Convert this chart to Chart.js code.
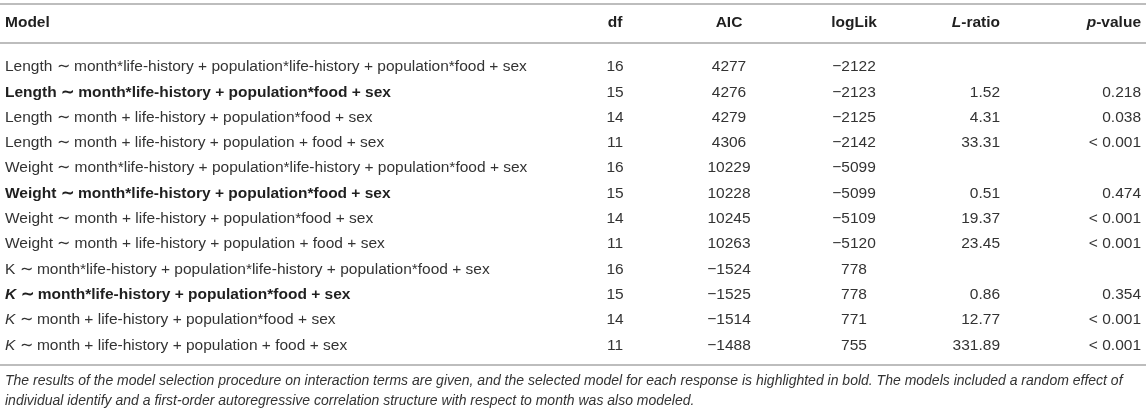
<!DOCTYPE html>
<html>
<head>
<meta charset="utf-8">
<script src="https://cdn.jsdelivr.net/npm/chart.js@4.4.1/dist/chart.umd.min.js"></script>
<style>
  html, body { margin: 0; padding: 0; background: #fff; }
  #wrap { width: 1146px; height: 413px; position: relative; }
</style>
</head>
<body>
<div id="wrap"><canvas id="tableChart"></canvas></div>
<script>
// table data
var responses = ['Length', 'Length', 'Length', 'Length', 'Weight', 'Weight', 'Weight', 'Weight', 'K', 'K', 'K', 'K'];
var formulas = [
    'month*life-history + population*life-history + population*food + sex',
    'month*life-history + population*food + sex',
    'month + life-history + population*food + sex',
    'month + life-history + population + food + sex',
    'month*life-history + population*life-history + population*food + sex',
    'month*life-history + population*food + sex',
    'month + life-history + population*food + sex',
    'month + life-history + population + food + sex',
    'month*life-history + population*life-history + population*food + sex',
    'month*life-history + population*food + sex',
    'month + life-history + population*food + sex',
    'month + life-history + population + food + sex'
];
var selected = [false, true, false, false, false, true, false, false, false, true, false, false];
var italicResponse = [false, false, false, false, false, false, false, false, false, true, true, true];
var df = [16, 15, 14, 11, 16, 15, 14, 11, 16, 15, 14, 11];
var aic = [4277, 4276, 4279, 4306, 10229, 10228, 10245, 10263, -1524, -1525, -1514, -1488];
var logLik = [-2122, -2123, -2125, -2142, -5099, -5099, -5109, -5120, 778, 778, 771, 755];
var lRatio = [null, 1.52, 4.31, 33.31, null, 0.51, 19.37, 23.45, null, 0.86, 12.77, 331.89];
var pValue = ['', '0.218', '0.038', '< 0.001', '', '0.474', '< 0.001', '< 0.001', '', '0.354', '< 0.001', '< 0.001'];
var caption = [
    'The results of the model selection procedure on interaction terms are given, and the selected model for each response is highlighted in bold. The models included a random effect of',
    'individual identify and a first-order autoregressive correlation structure with respect to month was also modeled.'
];

// layout (pixels across, row units down)
var fontFamily = '"Liberation Sans", Arial, Helvetica, sans-serif';
var bodySize = 15.5, captionSize = 14;
var textColor = '#333', boldColor = '#1f1f1f', ruleColor = '#bdbdbd';
var columns = [
    { key: 'model',  anchor: 5,    align: 'left',   head: [{ text: 'Model', bold: true }] },
    { key: 'df',     anchor: 615,  align: 'center', head: [{ text: 'df', bold: true }] },
    { key: 'aic',    anchor: 729,  align: 'center', head: [{ text: 'AIC', bold: true }] },
    { key: 'logLik', anchor: 854,  align: 'center', head: [{ text: 'logLik', bold: true }] },
    { key: 'lRatio', anchor: 1000, align: 'right',  head: [{ text: 'L', bold: true, italic: true }, { text: '-ratio', bold: true }] },
    { key: 'pValue', anchor: 1141, align: 'right',  head: [{ text: 'p', bold: true, italic: true }, { text: '-value', bold: true }] }
];
var yMin = -1.648, yMax = 14.676;
var headerRow = -0.75;
var ruleRows = [-1.49, 0.06, 12.77];
var captionRows = [13.42, 14.21];

function num(v) {
    if (v === null) return '';
    return (v < 0 ? '\u2212' : '') + Math.abs(v);
}

function cellRuns(key, i) {
    var b = selected[i];
    if (key === 'model') {
        return [
            { text: responses[i], bold: b, italic: italicResponse[i] },
            { text: ' \u223C ' + formulas[i], bold: b }
        ];
    }
    if (key === 'df') return [{ text: String(df[i]) }];
    if (key === 'aic') return [{ text: num(aic[i]) }];
    if (key === 'logLik') return [{ text: num(logLik[i]) }];
    if (key === 'lRatio') return [{ text: lRatio[i] === null ? '' : lRatio[i].toFixed(2) }];
    return [{ text: pValue[i] }];
}

function fontFor(run, size) {
    return (run.italic ? 'italic ' : '') + (run.bold ? 'bold ' : '') + size + 'px ' + fontFamily;
}

function drawRuns(ctx, runs, x, y, align, size) {
    var widths = runs.map(function (r) {
        ctx.font = fontFor(r, size);
        return ctx.measureText(r.text).width;
    });
    var total = widths.reduce(function (a, b) { return a + b; }, 0);
    var start = align === 'right' ? x - total : align === 'center' ? x - total / 2 : x;
    ctx.textAlign = 'left';
    ctx.textBaseline = 'middle';
    runs.forEach(function (r, k) {
        ctx.font = fontFor(r, size);
        ctx.fillStyle = r.bold ? boldColor : textColor;
        ctx.fillText(r.text, start, y);
        start += widths[k];
    });
}

var tableText = {
    id: 'tableText',
    afterDatasetsDraw: function (chart) {
        var ctx = chart.ctx;
        var xs = chart.scales.x, ys = chart.scales.y;
        ctx.save();
        chart.data.datasets.forEach(function (ds, d) {
            var col = columns[d];
            drawRuns(ctx, col.head, xs.getPixelForValue(col.anchor), ys.getPixelForValue(headerRow), col.align, bodySize);
            chart.getDatasetMeta(d).data.forEach(function (pt, i) {
                drawRuns(ctx, cellRuns(col.key, i), pt.x, pt.y, col.align, bodySize);
            });
        });
        caption.forEach(function (line, k) {
            drawRuns(ctx, [{ text: line, italic: true }], xs.getPixelForValue(5), ys.getPixelForValue(captionRows[k]), 'left', captionSize);
        });
        ctx.restore();
    }
};

var ctx = document.getElementById('tableChart').getContext('2d');
var myChart = new Chart(ctx, {
    type: 'scatter',
    data: {
        datasets: columns.map(function (col) {
            return {
                label: col.key,
                data: df.map(function (_, i) { return { x: col.anchor, y: i + 1 }; }),
                pointRadius: 0,
                pointHoverRadius: 0
            };
        })
    },
    plugins: [tableText],
    options: {
        maintainAspectRatio: false,
        responsive: true,
        animation: false,
        events: [],
        layout: { padding: 0 },
        plugins: {
            legend: { display: false },
            tooltip: { enabled: false }
        },
        scales: {
            x: { type: 'linear', min: 0, max: 1146, display: false },
            y: {
                type: 'linear',
                reverse: true,
                min: yMin,
                max: yMax,
                afterBuildTicks: function (scale) {
                    scale.ticks = ruleRows.map(function (v) { return { value: v }; });
                },
                ticks: { display: false },
                border: { display: false },
                grid: { drawTicks: false, color: ruleColor, lineWidth: 2 }
            }
        }
    }
});
</script>
</body>
</html>
